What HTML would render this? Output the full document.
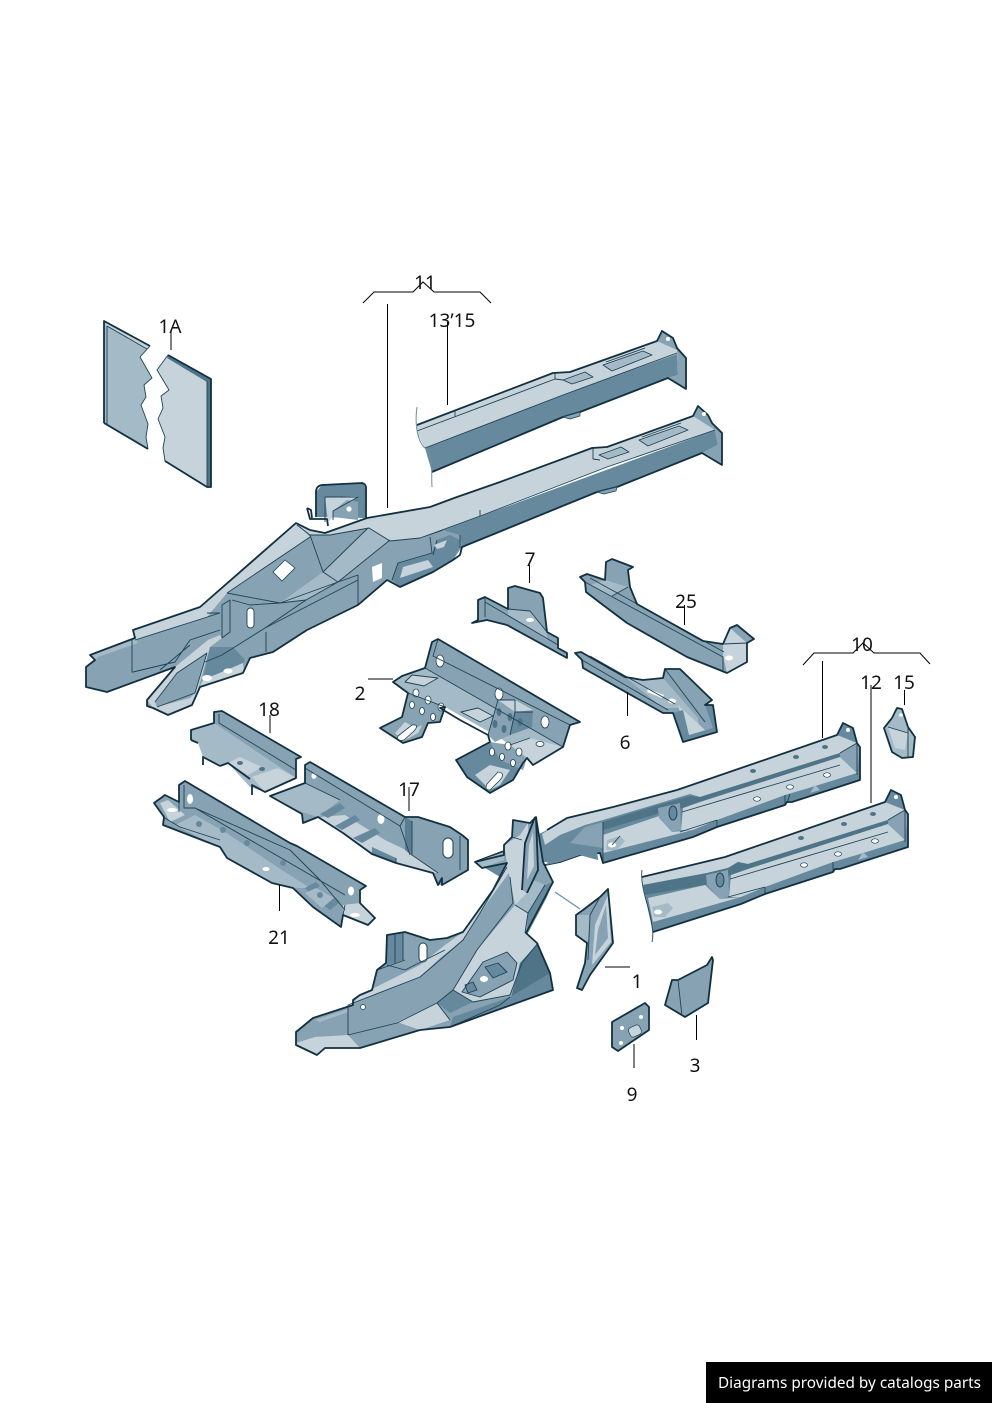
<!DOCTYPE html>
<html><head><meta charset="utf-8"><style>
html,body{margin:0;padding:0;background:#fff}
svg{display:block}
.o{stroke:#12303f;stroke-width:1.8;stroke-linejoin:round;fill:none}
.t{stroke:#1f4354;stroke-width:.9;stroke-linejoin:round;fill:none}
.n{stroke:#1f4354;stroke-width:.7;stroke-linejoin:round}
.l{fill:#c6d3db}.s{fill:#a5bac7}.m{fill:#86a2b3}.d{fill:#66899d}.k{fill:#4f7487}.w{fill:#fff}
.ld{stroke:#000;stroke-width:1;fill:none}
text.a{font-family:"Noto Sans","Noto Sans CJK JP",sans-serif;font-size:19px;fill:#111;text-anchor:middle}
</style></head><body>
<svg width="992" height="1403" viewBox="0 0 992 1403" xmlns="http://www.w3.org/2000/svg">
<rect width="992" height="1403" fill="#fff"/>

<!-- 1A -->
<polygon class="s" points="104,321 150,346 140,357 152,378 144,385 146,397 141,405 148,424 146,437 148,449 104,423"/>
<polygon class="l" points="104,321 150,346 147,349 107,326"/>
<path class="t" d="M107,326V425M107,326L147,349"/>
<path class="o" d="M104,423V321L150,346M104,423L148,449"/>
<path class="t" d="M150,346 140,357 152,378 144,385 146,397 141,405 148,424 146,437 148,449"/>
<polygon class="l" points="168,355 207,378 207,487 165,461 163,448 165,437 158,419 163,408 161,396 169,390 157,370"/>
<polygon class="k" points="168,355 211,379 211,487 207,487 207,382 167,358"/>
<path class="o" d="M168,355 211,379V487H207L165,461"/>
<path class="t" d="M207,381V487M168,355 157,370 169,390 161,396 163,408 158,419 165,437 163,448 165,461"/>

<!-- upper rail 13-15 -->
<polygon class="d" points="425,448 563,395 677,353 678,375 668,378 580,412 563,417 432,472"/>
<polygon class="l" points="417,425 553,373 570,372 657,341 677,348 677,354 563,395 425,448 417,433"/>
<polygon class="m" points="657,341 662,331 673,338 677,348 686,358 686,389 668,378 678,375 677,350"/>
<polygon class="s" points="563,380 585,372 593,377 572,384"/><polygon class="s" points="603,365 643,351 652,355 612,371"/>
<path class="t" d="M417,431 555,379M555,373V379L563,380M455,410V417M425,448 563,395 677,353M563,380 585,372 593,377 572,384ZM603,365 643,351 652,355 612,371ZM606,362 645,348"/>
<path class="o" d="M417,425 553,373 570,372 657,341 662,331 673,338 677,348 686,358V389L668,378 580,412 563,417 432,472"/>
<path d="M417,407C415,420 416,440 425,448S431,470 432,487" stroke="#6a8fa3" stroke-width="1" fill="none"/>
<circle cx="668" cy="339" r="2" class="w"/>
<path class="m n" d="M563,417 570,419 580,416 580,412Z"/>

<!-- main rail 11 : bracket -->
<path class="d" d="M316,517V492L322,485 362,483 366,488V518Z"/>
<polygon class="l" points="325,497 358,496 342,510 333,517 328,522"/>
<polygon class="m" points="333,517 333,511 347,500 358,502 358,520"/>
<path class="o" d="M316,517V492Q316,486 322,485L362,483Q366,484 366,488V518"/>
<path class="t" d="M325,497H358L333,511V520M325,497V522"/>
<circle cx="349" cy="509" r="2.6" class="w"/>
<path class="o" d="M307,508 310,519H327L328,526M307,508 311,510 312,518"/>

<!-- main rail body -->
<path class="m" d="M90,655 135,638 133,630 200,607 296,523 310,530 325,533 367,518 430,507 462,520 462,547 453,560 433,572 400,587 387,580 358,605 307,630 273,652 250,658 243,673 200,687 192,705 168,715 153,708 147,706V700L175,667 107,692 86,687V667L95,660Z"/>
<polygon class="d" points="443,530 715,430 718,445 702,453 617,487 597,492 462,547 460,535"/>
<polygon class="l" points="297,525 310,531 325,532 367,518 430,507 457,497 500,482 592,448 607,447 693,416 708,415 712,423 715,430 607,467 483,515 443,530 420,538 390,541 369,528 330,535 310,535"/>
<polygon class="m" points="693,416 698,406 708,415 712,423 722,433 722,465 702,453 718,445 715,430"/>
<polygon class="s" points="323,572 368,528 390,540 338,582"/>
<polygon class="s" points="280,603 323,572 338,582 306,600"/>
<polygon class="l" points="296,523 200,607 133,630 135,640 207,617 227,593 310,537"/>
<polygon class="d" points="210,647 233,647 245,660 240,668 203,678"/>
<polygon class="l" points="203,680 243,663 244,672 200,686"/>
<ellipse cx="207" cy="678" rx="5" ry="3" class="w"/><ellipse cx="228" cy="671" rx="4.5" ry="2.5" class="w"/>
<polygon class="l" points="147,700 175,667 208,640 220,635 222,638 210,647 197,693 192,705 168,715 153,708"/>
<polygon class="m" points="155,702 177,673 207,653 195,693 190,698 157,707"/>
<polygon class="l" points="157,707 190,698 192,705 168,715"/>
<polygon class="s" points="90,655 135,638 138,643 98,657 96,660"/>
<polygon class="d" points="392,580 398,563 432,553 437,540 450,535 460,540 460,547 453,560 433,572 400,587"/>
<polygon class="l" points="400,578 403,567 428,560 433,567"/>
<polygon class="w" points="372,567 382,563 382,578 373,582"/>
<path class="w" d="M273,572 285,560 295,568 282,581Z" stroke="#1f4354" stroke-width=".8"/>
<rect x="247" y="608" width="7" height="20" rx="3.500" class="w" stroke="#1f4354" stroke-width=".9"/>
<path class="t" d="M310,535 323,572 368,528M323,572 338,582 390,540M338,582 280,603 227,593M310,537 227,593M280,603 306,600 338,582M358,605V575L338,582M266,632V652M265,628 358,580M222,605 230,600V632L222,638V605M232,600 250,605 280,603 306,600 265,628 222,655 205,662M135,640 220,613M220,613H207M132,640V672L133,672 175,662 190,640M160,670 190,645M190,640 220,630M430,537 432,553 398,563 392,580M437,540 433,555M460,535V548M443,530 420,538M297,525 310,535 330,535 369,528 390,541 420,538 483,515 607,467 715,430M480,516V510M593,448V459L600,460M207,653 177,673 155,702M207,653 195,693 157,707"/>
<polygon class="l" points="434,545 447,540 444,547 437,549"/>
<path class="o" d="M90,655 135,638 133,630 200,607 296,523 310,530 325,533 367,518 430,507 457,497 500,482 592,448 607,447 693,416 698,406 708,415 712,423 722,433V465L702,453 617,487 597,492 462,547 460,555 453,560 433,572 400,587 387,580 358,605 307,630 273,652 250,658 243,673 200,687 192,705 168,715 153,708 147,706V700L175,667 107,692 86,687V667L95,660Z"/>
<circle cx="704" cy="414" r="2" class="w"/>
<polygon class="s" points="599,455 621,447 629,452 608,459"/><polygon class="s" points="639,440 679,426 688,430 648,446"/>
<path class="t" d="M599,455 621,447 629,452 608,459ZM639,440 679,426 688,430 648,446ZM642,437 681,423"/>
<path class="m n" d="M597,492 604,494 616,491 617,487Z"/>

<!-- 7 -->
<polygon class="m" points="478,600 485,597 508,609 508,588 515,586 540,593 543,598 547,632 558,638 558,648 567,653 567,658 507,625 487,620 472,623 478,620"/>
<polygon class="s" points="508,609 530,611 547,632 547,640 530,628 508,615"/>
<ellipse cx="530" cy="620" rx="4" ry="2" class="w"/>
<path class="t" d="M485,597V617M485,602 558,645M508,609 530,611 547,632"/>
<path class="o" d="M478,600 485,597 508,609V588L515,586 540,593 543,598 547,632 558,638V648L567,653V658L507,625 487,620 472,623 478,620Z"/>

<!-- 25 -->
<polygon class="m" points="580,577 587,574 605,580 606,562 612,559 633,567 628,570 630,587 637,604 703,641 723,644 730,628 737,625 754,639 747,643 747,662 727,673 687,657 627,623 603,605 586,592 585,582"/>
<polygon class="s" points="605,580 628,587 612,596 590,585"/>
<polygon class="l" points="723,644 730,628 747,643 747,662 727,673 723,656"/>
<ellipse cx="729" cy="658" rx="4" ry="2.500" class="w"/>
<path class="t" d="M585,582 723,657V672M590,578 724,652M612,596 628,587M723,644 747,643"/>
<path class="o" d="M580,577 587,574 605,580 606,562 612,559 633,567 628,570 630,587 637,604 703,641 723,644 730,628 737,625 754,639 747,643V662L727,673 687,657 627,623 603,605 586,592 585,582Z"/>

<!-- 6 -->
<polygon class="m" points="575,653 581,652 625,677 643,680 663,678 665,669 680,669 712,700 705,705 713,705 717,732 683,742 673,713 663,713 583,668 582,660"/>
<polygon class="s" points="625,677 643,680 663,678 698,718 700,735 687,737 680,708 663,708"/>
<polygon class="l" points="678,705 705,730 690,738 680,712"/>
<polygon class="d" points="673,713 683,710 689,735 713,728 705,705 713,705 717,732 683,742"/>
<polygon class="w" points="648,689 664,695 662,698 647,692"/>
<ellipse cx="672" cy="701" rx="4" ry="2.500" class="w"/>
<path class="t" d="M582,660 668,710M590,656 675,704M665,669 705,722"/>
<path class="o" d="M575,653 581,652 625,677 643,680 663,678 665,669H680L712,700 705,705H713L717,732 683,742 673,713H663L583,668 582,660Z"/>

<!-- 2 -->
<polygon class="s" points="393,682 402,676 425,668 563,747 533,765 527,758 510,745 500,738 445,707 440,722 428,723 422,737 403,743 380,728 402,717 408,693"/>
<polygon class="m" points="432,642 438,639 580,722 570,725 563,747 425,668"/>
<polygon class="d" points="456,760 490,742 523,763 513,780 490,793 467,777"/>
<polygon class="m" points="408,693 445,707 440,722 428,723 422,737 403,743 380,728 402,717"/>
<polygon class="l" points="395,733 405,722 416,728 422,725 418,733 403,741"/>
<polygon class="l" points="475,775 490,765 510,770 500,785 490,790"/>
<polygon class="m" points="498,700 515,700 533,710 532,727 510,735 495,742 488,735"/>
<polygon class="l" points="498,700 515,700 533,710 515,712"/>
<polygon class="d" points="515,712 533,712 532,727 510,735"/>
<polygon class="l" points="510,745 530,738 563,747 533,765 527,758"/>
<polygon class="l" points="462,712 478,708 493,716 480,722"/>
<polygon class="l" points="412,675 438,678 424,686 405,682"/>
<polygon class="m" points="490,742 510,745 527,758 523,770 500,760"/>
<g class="w" stroke="#1f4354" stroke-width=".8">
<ellipse cx="440" cy="661" rx="4" ry="6"/><ellipse cx="499" cy="694" rx="4" ry="6"/><ellipse cx="545" cy="722" rx="4" ry="6"/>
<ellipse cx="416" cy="693" rx="3" ry="4"/><ellipse cx="428" cy="700" rx="3" ry="4"/><ellipse cx="441" cy="707" rx="3" ry="4"/>
<ellipse cx="412" cy="705" rx="2.500" ry="3.500"/><ellipse cx="422" cy="711" rx="2.500" ry="3.500"/><ellipse cx="433" cy="717" rx="2.500" ry="3.500"/>
<ellipse cx="508" cy="746" rx="3" ry="4"/><ellipse cx="519" cy="752" rx="3" ry="4"/><ellipse cx="492" cy="752" rx="2.500" ry="4"/><ellipse cx="502" cy="757" rx="2.500" ry="3.500"/><ellipse cx="513" cy="763" rx="2.500" ry="3.500"/>
<ellipse cx="540" cy="744" rx="4" ry="2.500"/>
<path d="M398,736 412,725Q420,724 414,731L404,740Q395,742 398,736Z"/><path d="M487,784 498,772Q506,773 500,780L490,790Q484,790 487,784Z"/>
</g>
<g class="k"><ellipse cx="499" cy="712" rx="2.500" ry="4"/><ellipse cx="510" cy="717" rx="2.500" ry="4"/><ellipse cx="495" cy="724" rx="2.500" ry="4"/><ellipse cx="504" cy="729" rx="2.500" ry="4"/><ellipse cx="520" cy="722" rx="2.500" ry="4"/></g>
<path class="t" d="M425,668 563,747M432,642 425,668M438,639 433,656 570,725M408,693 445,707M515,700 498,700 488,735M515,700V712L510,735M515,712 533,712M461,712 478,708 493,716 480,722ZM412,675 438,678 424,686 405,682ZM530,738 510,745"/>
<path class="o" d="M393,682 402,676 425,668 432,642 438,639 580,722 570,725 563,747 533,765 527,758 523,763 513,780 490,793 467,777 456,760 490,742 488,735 460,720 440,708 445,707 440,722 428,723 422,737 403,743 380,728 402,717 408,693Z"/>

<!-- 18 -->
<polygon class="s" points="191,730 214,723 250,747 296,778 265,792 250,787 228,763 220,766 203,757 198,743 191,740"/>
<polygon class="m" points="214,712 222,711 301,757 296,759 296,778 214,723"/>
<polygon class="l" points="252,777 278,768 296,778 265,792"/>
<polygon class="l" points="228,763 240,757 262,767 248,775"/>
<ellipse cx="240" cy="763" rx="3" ry="2" class="k"/><ellipse cx="262" cy="769" rx="3" ry="2" class="k"/>
<path class="t" d="M219,714V723L296,770M191,730V740L198,743"/>
<path class="o" d="M191,740V730L214,723V712L222,711 301,757 296,759V778L265,792 252,785V795M220,766 203,757V765M250,779 228,763 220,766M191,740 198,743"/>

<!-- 17 -->
<polygon class="m" points="305,765 310,762 405,817 418,817 450,827 462,835 468,840 468,870 442,885 438,885 433,873 396,863 372,854 343,833 318,817 303,823 302,814 270,796 305,783"/>
<polygon class="s" points="270,796 305,783 340,800 318,817 302,812"/>
<polygon class="l" points="345,815 385,840 406,850 438,873 432,873 396,863 372,854 343,833 320,817"/>
<polygon class="d" points="320,814 340,803 345,808 328,818"/><polygon class="d" points="335,826 355,815 360,820 342,830"/><polygon class="d" points="353,838 375,828 380,833 362,843"/>
<polygon class="d" points="372,847 396,858 396,863 372,854"/>
<polygon class="k" points="405,817 412,821 412,856 405,850" opacity=".8"/>
<rect x="443" y="838" width="10" height="20" rx="5" class="w" stroke="#1f4354"/>
<ellipse cx="381" cy="819" rx="3.500" ry="5" class="w"/><ellipse cx="314" cy="776" rx="2.500" ry="3" class="w"/>
<path class="t" d="M305,783V768L400,826 410,855M400,826 405,817M412,821V855L438,873M460,836V870M305,783 340,800M396,863V858"/>
<path class="o" d="M270,796 305,783V765L310,762 405,817H418L450,827 462,835 468,840V870L442,885V878L438,885 433,873 396,863 372,854 343,833 318,817 303,823 302,814Z"/>

<!-- 21 -->
<polygon class="m" points="179,785 185,781 290,843 297,846 366,886 360,890 360,903 375,918 368,925 343,915 341,927 313,907 293,888 272,883 227,858 220,847 163,825 164,817 154,803 165,795 179,802"/>
<polygon class="s" points="195,815 225,832 285,872 310,888 293,888 272,883 227,858 220,847 200,838 175,825"/>
<polygon class="l" points="160,803 168,800 185,815 170,822"/>
<polygon class="l" points="343,905 360,903 375,918 368,925 343,915"/>
<polygon class="d" points="305,888 316,882 320,886 310,893"/><polygon class="d" points="323,905 335,897 340,902 330,910"/>
<polygon class="s" points="316,888 334,898 322,908 305,893"/>
<ellipse cx="172" cy="810" rx="5" ry="2" class="w"/><ellipse cx="355" cy="915" rx="5" ry="2" class="w"/>
<ellipse cx="190" cy="799" rx="3" ry="5" class="w"/><ellipse cx="351" cy="891" rx="3" ry="4.500" class="w"/>
<ellipse cx="266" cy="869" rx="3.500" ry="2" class="w"/><circle cx="199" cy="824" r="3" class="d"/><circle cx="223" cy="830" r="3" class="d"/><circle cx="247" cy="843" r="3" class="d"/><circle cx="283" cy="863" r="3" class="d"/><circle cx="320" cy="895" r="3" class="d"/>
<path class="t" d="M184,785V808H195L290,850 320,880 345,910M195,808 345,895M163,817 180,827 220,840M179,802 179,812M343,915 345,905"/>
<path class="o" d="M179,802V785L185,781 290,843 297,846 366,886 360,890V903L375,918 368,925 343,915 341,927 313,907 293,888 272,883 227,858 220,847 163,825 164,817 154,803 165,795Z"/>

<!-- 10 rail -->
<polygon class="d" points="475,862 507,850 547,830 567,818 613,807 677,790 837,735 843,723 853,728 857,743 860,747 860,780 792,802 787,803 785,805 717,827 693,837 603,863 600,853 580,855 560,862 543,862 505,880"/>
<polygon class="l" points="542,834 567,818 613,807 677,790 837,735 857,743 840,753 700,797 690,794 660,803 603,820 585,825 560,835 545,845"/>
<polygon class="k" points="603,822 658,805 690,796 700,797 840,753 840,757 700,802 683,808 660,813 603,830"/>
<polygon class="l" points="683,808 700,802 840,757 857,773 812,787 785,795 717,820 693,830 681,830"/>
<polygon class="l" points="603,835 659,816 672,832 693,830 603,853"/>
<polygon class="m" points="840,753 857,743 860,748 857,773 840,757"/>
<polygon class="m" points="658,808 680,803 681,830 672,832 659,818"/>
<polygon class="m" points="585,827 603,822 603,848 570,843"/>
<polygon class="d" points="547,863 557,852 597,850 598,860 580,855 560,862"/>
<polygon class="s" points="607,840 620,836 625,841 617,850 606,850"/>
<ellipse cx="612" cy="845" rx="4" ry="2.500" class="w"/><ellipse cx="673" cy="813" rx="4" ry="7" class="d" stroke="#1f4354"/>
<g class="w" stroke="#1f4354" stroke-width=".7"><ellipse cx="757" cy="799" rx="3.500" ry="2.200"/><ellipse cx="790" cy="787" rx="3.500" ry="2.200"/><ellipse cx="827" cy="775" rx="3.500" ry="2.200"/></g>
<g class="k"><ellipse cx="753" cy="771" rx="3" ry="2"/><ellipse cx="796" cy="757" rx="3" ry="2"/><ellipse cx="825" cy="747" rx="3" ry="2"/></g>
<polygon class="s" points="810,793 815,785 820,790"/>
<path class="t" d="M682,812 840,765M680,832 717,820M717,827V820M785,795V805M787,803 790,794M840,753 857,743V775M603,822V863M612,845 620,836"/>
<path class="o" d="M475,862 507,850M547,830 567,818 613,807 677,790 837,735 843,723 853,728 857,743 860,747V780L792,802H787L785,805 717,827 693,837 603,863 600,853 580,855 560,862 545,865"/>
<circle cx="848" cy="730" r="2" class="w"/>

<!-- 12 rail -->
<polygon class="d" points="642,877 725,857 885,802 891,790 901,795 905,810 908,814 908,847 840,869 835,870 833,872 765,894 741,904 653,932 648,910"/>
<polygon class="l" points="642,877 725,857 885,802 905,810 888,820 748,864 738,862 728,868 707,873 643,885"/>
<polygon class="k" points="643,885 707,873 728,868 738,862 748,864 888,820 888,824 748,869 731,875 705,885 645,895"/>
<polygon class="l" points="731,875 748,869 888,824 905,840 860,854 833,862 765,887 741,897 729,897"/>
<polygon class="l" points="648,898 705,885 720,899 741,897 653,922"/>
<polygon class="m" points="888,820 905,810 908,815 905,840 888,824"/>
<polygon class="m" points="706,875 728,870 729,897 720,899 707,885"/>
<polygon class="s" points="652,907 668,903 673,908 665,917 654,917"/>
<ellipse cx="658" cy="912" rx="4" ry="2.500" class="w"/><ellipse cx="720" cy="880" rx="4" ry="7" class="d" stroke="#1f4354"/>
<g class="w" stroke="#1f4354" stroke-width=".7"><ellipse cx="804" cy="865" rx="3.500" ry="2.200"/><ellipse cx="838" cy="854" rx="3.500" ry="2.200"/><ellipse cx="875" cy="841" rx="3.500" ry="2.200"/></g>
<g class="k"><ellipse cx="801" cy="838" rx="3" ry="2"/><ellipse cx="844" cy="824" rx="3" ry="2"/><ellipse cx="873" cy="814" rx="3" ry="2"/></g>
<polygon class="s" points="858,860 863,852 868,857"/>
<path class="t" d="M730,879 888,832M728,897 765,887M765,894V887M833,862V872M888,820 905,810V842"/>
<path class="o" d="M642,877 725,857 885,802 891,790 901,795 905,810 908,814V847L840,869H835L833,872 765,894 741,904 653,932"/>
<path class="t" d="M642,870C640,885 648,905 650,915S654,935 652,942"/>
<circle cx="896" cy="797" r="2" class="w"/>

<!-- 10 front -->
<path class="m" d="M296,1032V1045L317,1055 325,1048H360L420,1030 450,1027 553,990 550,973 537,943 526,933 553,882 543,862 536,817 530,823 513,820 512,837 504,845V855L475,862 482,868 507,863 493,890 463,932 447,938 430,940 405,932 387,935 386,963 377,970 372,990 360,995 353,1000V1005L313,1018Z"/>
<polygon class="d" points="386,935 403,933 403,960 387,965"/>
<polygon class="l" points="360,995 420,965 445,945 463,932 493,890 507,863 511,870 480,913 463,940 440,958 420,977 353,1003"/>
<polygon class="l" points="453,990 477,950 515,905 528,913 525,933 538,943 522,963 510,995 473,1002"/>
<polygon class="m" points="462,992 483,962 507,952 517,963 513,980 480,997"/>
<polygon class="d" points="465,985 473,982 477,990 468,993"/><polygon class="d" points="485,967 498,963 507,972 493,978"/>
<ellipse cx="484" cy="979" rx="4" ry="3" class="w"/>
<polygon class="k" points="520,963 538,943 550,973 553,990 510,1002"/>
<polygon class="d" points="450,1027 553,990 550,973 510,997 453,1017"/>
<polygon class="l" points="397,1022 437,1003 450,1020 420,1030"/>
<polygon class="d" points="437,1003 453,990 473,1002 450,1013"/>
<polygon class="l" points="296,1043 315,1037 348,1035 360,1048 325,1048 317,1055 296,1045"/>
<polygon class="s" points="315,1020 348,1009 348,1012 320,1022"/>
<polygon class="s" points="515,905 533,880 545,885 528,913"/>
<polygon class="d" points="528,913 545,885 553,882 547,897 527,935"/>
<polygon class="l" points="504,845 520,835 528,823 530,890 515,905 507,863"/>
<polygon class="m" points="522,890 525,843 535,817 538,870 527,893"/>
<polygon class="l" points="527,880 529,845 533,832 534,866"/>
<polygon class="d" points="546,865 557,852 597,850 598,860 580,855 560,862"/>
<polygon class="s" points="475,862 504,852 504,860 482,868"/>
<rect x="419" y="943" width="8" height="19" rx="4" class="w" stroke="#1f4354"/>
<circle cx="363" cy="1007" r="2.500" class="w" stroke="#1f4354" stroke-width=".7"/>
<path class="t" d="M348,1005V1035M348,1005 420,977 440,960 463,940 480,913 507,867M348,1035 397,1023 437,1003 453,990 477,950 513,903 510,877M453,990 473,1002 510,995M437,1003 450,1020M510,995 522,963 538,943M525,933 528,913 515,905M462,992 483,962 507,952 517,963 513,980 480,997ZM528,913 545,885M387,965 405,970M403,933V960M395,935V963M405,970 445,950M450,1027 500,1005 510,997M465,985 473,982 477,990 468,993ZM485,967 498,963 507,972 493,978ZM512,837 522,840M377,970 405,960"/>
<path class="o" d="M296,1032V1045L317,1055 325,1048H360L420,1030 450,1027 553,990 550,973 537,943 526,933 553,882 543,862 536,817 530,823 513,820 512,837 504,845V855L475,862 482,868 507,863 493,890 463,932 447,938 430,940 405,932 387,935 386,963 377,970 372,990 360,995 353,1000V1005L313,1018Z"/>
<path class="o" d="M522,890 525,843 535,817M536,817 538,870 527,893"/>

<!-- 1 -->
<polygon class="m" points="608,889 613,943 590,975 582,990 577,988 585,963 587,943 576,935 576,915 583,910 600,897"/>
<polygon class="s" points="576,915 590,915 588,942 576,935"/>
<polygon class="l" points="595,925 608,895 611,942 592,965"/>
<polygon class="m" points="598,930 606,905 608,938 595,955"/>
<path class="o" d="M608,889 613,943 590,975 582,990 577,988 585,963 587,943 576,935V915L583,910 600,897Z"/>
<path class="t" d="M590,915 600,897M590,915 588,960"/>
<line x1="555" y1="892" x2="580" y2="909" stroke="#6a8fa3" stroke-width="1.200"/>

<!-- 3 -->
<polygon class="m" points="712,957 713,960 708,1003 685,1017 665,1005 672,980 678,980 707,965"/>
<path class="o" d="M712,957 713,960 708,1003 685,1017 665,1005 672,980H678L707,965Z"/>
<path class="t" d="M678,980 682,1016"/>

<!-- 9 -->
<polygon class="m" points="612,1022 645,1003 649,1007 649,1030 618,1051 612,1047"/>
<path class="o" d="M612,1022 645,1003 649,1007V1030L618,1051 612,1047Z"/>
<g class="w"><circle cx="622" cy="1028" r="2"/><circle cx="641" cy="1017" r="2"/><circle cx="621" cy="1043" r="2"/><circle cx="640" cy="1032" r="2"/></g>
<rect x="629" y="1026" width="12" height="10" rx="3" class="l" stroke="#1f4354" stroke-width=".7" transform="rotate(-25 635 1031)"/>

<!-- 15 -->
<polygon class="s" points="897,708 902,709 908,727 915,737 913,757 902,758 892,752 884,728 892,718"/>
<polygon class="l" points="888,727 908,733 905,750 895,748"/>
<path class="o" d="M897,708 902,709 908,727 915,737 913,757 902,758 892,752 884,728 892,718Z"/>
<path class="t" d="M908,727V757M888,727 908,733"/>
<circle cx="901" cy="715" r="1.800" class="w"/>

<!-- leaders -->
<path class="ld" d="M363,303 374,292H413L423,282 434,292H480L491,303M387.500,304V508M447.500,322V405M171,330V350M529.500,565V583M684.500,605V625M368,679H393M627.500,692V716M270,715V733M409,787V811M279.500,885V911M803,665 814,653H853L863,643 874,653H920L930,664M822.500,661V738M871,685V803M904.500,690V705M605,967H630M634,1044V1068M696.500,1015V1040"/>

<text class="a" x="425" y="289">11</text>
<text class="a" x="452" y="327">13’15</text>
<text class="a" x="170" y="333">1A</text>
<text class="a" x="530" y="566">7</text>
<text class="a" x="686" y="608">25</text>
<text class="a" x="360" y="700">2</text>
<text class="a" x="625" y="749">6</text>
<text class="a" x="269" y="716">18</text>
<text class="a" x="409" y="796">17</text>
<text class="a" x="279" y="944">21</text>
<text class="a" x="862" y="651">10</text>
<text class="a" x="871" y="689">12</text>
<text class="a" x="904" y="689">15</text>
<text class="a" x="637" y="988">1</text>
<text class="a" x="632" y="1101">9</text>
<text class="a" x="695" y="1072">3</text>

<rect x="706" y="1362" width="286" height="41" fill="#000"/>
<text x="718" y="1388" fill="#fff" font-family="'Noto Sans','Noto Sans CJK JP',sans-serif" font-size="15" textLength="263" lengthAdjust="spacingAndGlyphs">Diagrams provided by catalogs parts</text>
</svg>
</body></html>
